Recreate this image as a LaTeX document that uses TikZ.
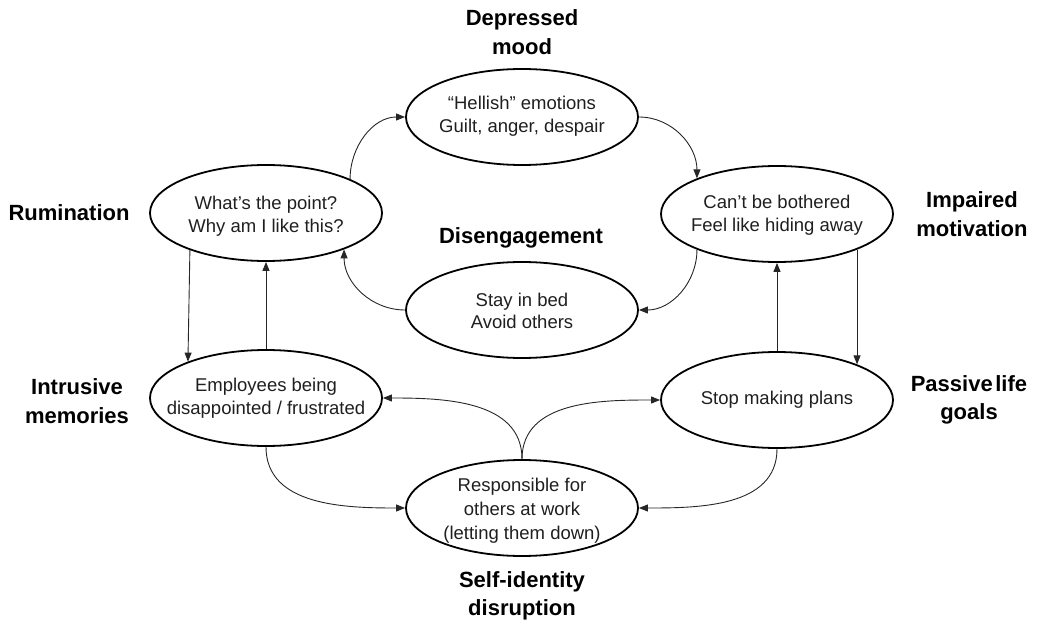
\documentclass[tikz,border=0pt]{standalone}
\usepackage{fontspec}
\setmainfont{Liberation Sans}
\usetikzlibrary{arrows.meta,shapes.geometric}
\begin{document}
\begin{tikzpicture}[x=1pt,y=-1pt,
  ell/.style={draw, ellipse, line width=1.8pt, minimum width=232pt, minimum height=96pt, inner sep=0pt},
  txt/.style={align=center, font=\fontsize{18.5}{22.5}\selectfont, text=black!88},
  lab/.style={align=center, font=\fontsize{22}{28.5}\selectfont\bfseries},
  conn/.style={line width=0.9pt, draw=black!85, -{Triangle[length=9pt,width=7pt]}}]
\useasboundingbox (0,0) rectangle (1037,623);
% ellipses
\node[ell] (top) at (522,117) {};
\node[ell] (lft) at (266,213) {};
\node[ell] (rgt) at (777,214) {};
\node[ell] (mid) at (522,310) {};
\node[ell] (ll)  at (266,398) {};
\node[ell] (lr)  at (777,400) {};
\node[ell] (bot) at (522,508) {};
% ellipse texts
\node[txt] (ttop) at ([yshift=1pt]top.center) {“Hellish” emotions\\Guilt, anger, despair};
\node[txt] (tlft) at ([yshift=-3pt]lft.center) {What’s the point?\\Why am I like this?};
\node[txt] (trgt) at ([yshift=-1pt]rgt.center) {Can’t be bothered\\Feel like hiding away};
\node[txt] (tmid) at ([yshift=-1pt]mid.center) {Stay in bed\\Avoid others};
\node[txt] (tll)  at (ll)  {Employees being\\disappointed / frustrated};
\node[txt] (tlr)  at (lr)  {Stop making plans};
\node[txt, font=\fontsize{18.5}{24}\selectfont] (tbot) at ([yshift=-3pt]bot.center) {Responsible for\\others at work\\(letting them down)};
% labels
\node[lab] (ldep) at (522,32) {Depressed\\mood};
\node[lab] (lrum) at (69,213) {Rumination};
\node[lab] (limp) at (972,214) {Impaired\\motivation};
\node[lab] (ldis) at (521,238) {Disengagement};
\node[lab] (lint) at (77,401) {Intrusive\\memories};
\node[lab] (lpas) at (969,400) {Passive\hspace{0.12em}life\\goals};
\node[lab] (lsel) at (522,596) {Self-identity\\disruption};
% connectors
\draw[conn] (lft.22) to[out=90,in=180] (top.180);
\draw[conn] (top.0) to[out=0,in=90] (rgt.156);
\draw[conn] (rgt.204) to[out=270,in=0] (mid.0);
\draw[conn] (mid.180) to[out=180,in=270] (lft.335);
\draw[conn] (lft.206.6) -- (ll.155.8);
\draw[conn] (ll.90) -- (lft.270);
\draw[conn] (rgt.336.3) -- (lr.24.5);
\draw[conn] (lr.90) -- (rgt.270);
\draw[conn] (ll.270) to[out=270,in=180] (bot.180);
\draw[conn] (lr.270) to[out=270,in=0] (bot.0);
\draw[conn] (bot.90) to[out=90,in=0] (ll.0);
\draw[conn] (bot.90) to[out=90,in=180] (lr.180);
\end{tikzpicture}
\end{document}
